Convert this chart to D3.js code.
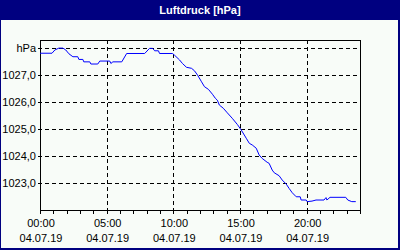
<!DOCTYPE html>
<html>
<head>
<meta charset="utf-8">
<script src="https://cdn.jsdelivr.net/npm/d3@7"></script>
<style>
  html, body { margin: 0; padding: 0; background: #f8fcf8; }
  svg { display: block; font-family: "Liberation Sans", Arial, sans-serif; }
</style>
</head>
<body>
<svg id="chart" width="400" height="250"></svg>
<script>
// Luftdruck 04.07.19, hPa
const times = ["00:00","00:54","01:07","01:25","01:43","01:56","02:10","02:28","02:50","02:55","03:13","03:17","03:44",
  "03:49","04:20","04:29","05:14","05:19","05:28","06:08","06:30","07:51","08:13","08:27","08:36","08:53","08:58",
  "09:56","10:05","10:28","10:41","10:59","11:22","11:35","11:49","12:07","12:20","12:38","12:56","13:09","13:18",
  "13:27","13:45","14:03","14:25","14:48","15:06","15:28","15:42","15:55","16:13","16:26","16:40","17:02","17:11",
  "17:25","17:34","17:56","18:10","18:28","18:41","18:55","19:13","19:31","19:35","19:58","20:02","20:24","20:42",
  "21:18","21:27","21:31","21:45","22:56","23:05","23:23","23:41"];
const pressure = [1027.81,1027.81,1027.93,1028.0,1028.0,1027.93,1027.79,1027.68,1027.68,1027.58,1027.58,1027.49,1027.49,
  1027.41,1027.41,1027.52,1027.52,1027.43,1027.49,1027.49,1027.80,1027.80,1027.99,1027.99,1027.90,1027.90,1027.80,
  1027.80,1027.74,1027.56,1027.43,1027.29,1027.25,1027.16,1027.0,1026.75,1026.57,1026.47,1026.29,1026.14,1026.07,
  1025.89,1025.77,1025.60,1025.40,1025.17,1024.96,1024.66,1024.47,1024.41,1024.29,1024.04,1023.91,1023.77,1023.73,
  1023.48,1023.38,1023.27,1023.11,1022.96,1022.80,1022.64,1022.49,1022.49,1022.37,1022.37,1022.31,1022.33,1022.37,
  1022.37,1022.46,1022.37,1022.47,1022.47,1022.37,1022.31,1022.31];
const yTicks = [1023, 1024, 1025, 1026, 1027, 1028];
const xTickHours = [0, 5, 10, 15, 20];
const dateLabel = "04.07.19";
const title = "Luftdruck [hPa]";

const svg = d3.select("#chart");
const W = 400, H = 250;
const plot = { left: 40, top: 40, right: 360, bottom: 210 };

const day = d3.timeParse("%d.%m.%y %H:%M");
const data = times.map((t, i) => ({ t: day(dateLabel + " " + t), v: pressure[i] }));
const t0 = day(dateLabel + " 00:00");
const t1 = d3.timeDay.offset(t0, 1);

const x = d3.scaleTime().domain([t0, t1]).range([plot.left, plot.right]);
const y = d3.scaleLinear().domain([1022, 1028.3]).range([plot.bottom, plot.top]);

// frame
svg.append("rect").attr("width", W).attr("height", H).attr("fill", "#000080");
svg.append("rect").attr("x", 1).attr("y", 20).attr("width", W - 3).attr("height", H - 22).attr("fill", "#f8fcf8");
svg.append("text").attr("x", W / 2).attr("y", 14).attr("text-anchor", "middle")
  .attr("fill", "#fff").attr("font-weight", "bold").attr("font-size", 11).text(title);

// grid
const grid = svg.append("g").attr("stroke", "#000").attr("stroke-width", 1)
  .attr("stroke-dasharray", "4,3").attr("shape-rendering", "crispEdges");
yTicks.forEach(v => {
  grid.append("line").attr("x1", 38).attr("x2", plot.right)
    .attr("y1", Math.round(y(v)) + 0.5).attr("y2", Math.round(y(v)) + 0.5);
});
xTickHours.slice(1).forEach(h => {
  const xx = Math.round(x(d3.timeHour.offset(t0, h))) + 0.5;
  grid.append("line").attr("x1", xx).attr("x2", xx).attr("y1", plot.top).attr("y2", plot.bottom);
});

// y labels
const yl = svg.append("g").attr("font-size", 11).attr("fill", "#000").attr("text-anchor", "end");
yTicks.forEach(v => {
  yl.append("text").attr("x", 36).attr("y", Math.round(y(v)) + 4)
    .text(v === 1028 ? "hPa" : d3.format(".1f")(v).replace(".", ","));
});

// x axis with hourly ticks
const xAxis = d3.axisBottom(x).ticks(d3.timeHour.every(1)).tickSize(3).tickFormat("");
const ax = svg.append("g").attr("transform", `translate(0,${plot.bottom + 0.5})`).call(xAxis);
ax.select(".domain").remove();
ax.selectAll(".tick line").attr("stroke", "#000").attr("shape-rendering", "crispEdges");

const xl = svg.append("g").attr("font-size", 11).attr("fill", "#000").attr("text-anchor", "middle");
xTickHours.forEach(h => {
  const tt = d3.timeHour.offset(t0, h);
  xl.append("text").attr("x", x(tt) + 1).attr("y", 227).text(d3.timeFormat("%H:%M")(tt));
  xl.append("text").attr("x", x(tt) + 1).attr("y", 242).text(dateLabel);
});

// plot border
svg.append("path")
  .attr("d", `M${plot.left + 0.5},${plot.top + 0.5}H${plot.right + 0.5}V${plot.bottom + 0.5}H${plot.left + 0.5}Z`)
  .attr("fill", "none").attr("stroke", "#000").attr("shape-rendering", "crispEdges");

// line
const line = d3.line().x(d => x(d.t)).y(d => y(d.v));
svg.append("path").datum(data).attr("d", line)
  .attr("fill", "none").attr("stroke", "#0000ff").attr("stroke-width", 1);
</script>
</body>
</html>
